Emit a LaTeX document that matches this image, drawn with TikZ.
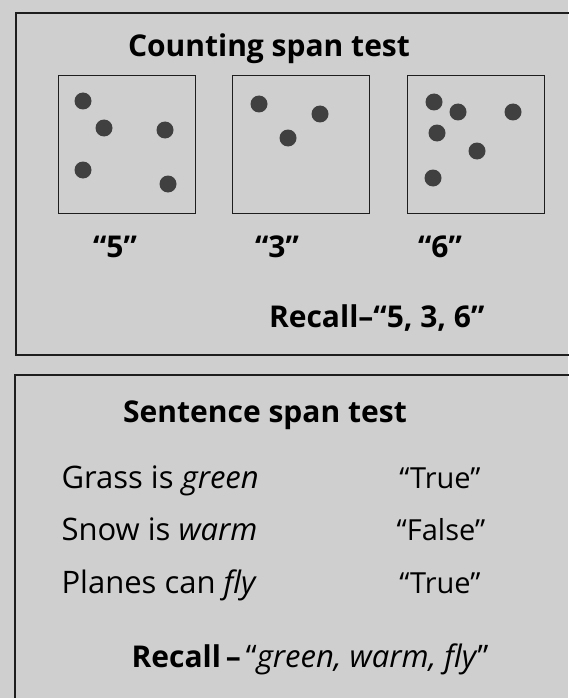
\documentclass[tikz,border=0pt]{standalone}
\usepackage{fontspec}
\setmainfont{Open Sans}
\usepackage{tikz}
\usetikzlibrary{positioning}
\definecolor{paper}{HTML}{CFCFCF}
\definecolor{ink}{HTML}{1E1E1E}

\begin{document}
\begin{tikzpicture}[
  x=1pt, y=-1pt,
  panel/.style={draw=ink, line width=1.3pt},
  dotbox/.style={draw=ink, line width=0.9pt, minimum width=137pt,
                 minimum height=138pt, inner sep=0pt},
  spot/.style={fill=ink!85},
  heading/.style={font=\fontsize{30}{34}\selectfont\bfseries, anchor=base},
  answer/.style={font=\fontsize{30}{34}\selectfont\bfseries, anchor=base},
  line/.style={font=\fontsize{31}{34}\selectfont, anchor=base west},
  verdict/.style={font=\fontsize{29}{34}\selectfont, anchor=base},
]
% Background
\useasboundingbox[fill=paper] (0,0) rectangle (568,698);

% Panels
\draw[panel] (16,13) rectangle (590,355);
\draw[panel] (15,375) rectangle (590,720);

% Counting span test
\node[heading] (ctitle) at (269,57) {Counting span test};
\node[dotbox] (box1) at (126.5,144) {};
\node[dotbox] (box2) at (301,144) {};
\node[dotbox] (box3) at (475.5,144) {};

% Dots
\foreach \px/\py in {83/101, 104/128, 165/130, 83/170, 168/184,
                     259/104, 320/114, 288/138,
                     434/102, 458/112, 513/112, 437/133, 477/151, 433/178}
  \fill[spot] (\px,\py) circle (8.5);

\node[answer] (n1) at (115,257) {“5”};
\node[answer] (n2) at (277,257) {“3”};
\node[answer] (n3) at (440,257) {“6”};
\node[answer, anchor=base east] (crecall) at (488,327)
  {Recall–“5, 3, 6”};

% Sentence span test
\node[heading] (stitle) at (265,422) {Sentence span test};
\node[line] (s1) at (58,488) {Grass is \textit{green}};
\node[line] (s2) at (58,540) {Snow is \textit{warm}};
\node[line] (s3) at (58,593) {Planes can \textit{fly}};
\node[verdict] (v1) at (440,488) {“True”};
\node[verdict] (v2) at (441,540) {“False”};
\node[verdict] (v3) at (440,593) {“True”};
\node[answer, anchor=base east] (srecall) at (492,667)
  {Recall\,–\,\textmd{\fontsize{31}{34}\selectfont“\textit{green, warm, fly}”}};
\end{tikzpicture}
\end{document}
